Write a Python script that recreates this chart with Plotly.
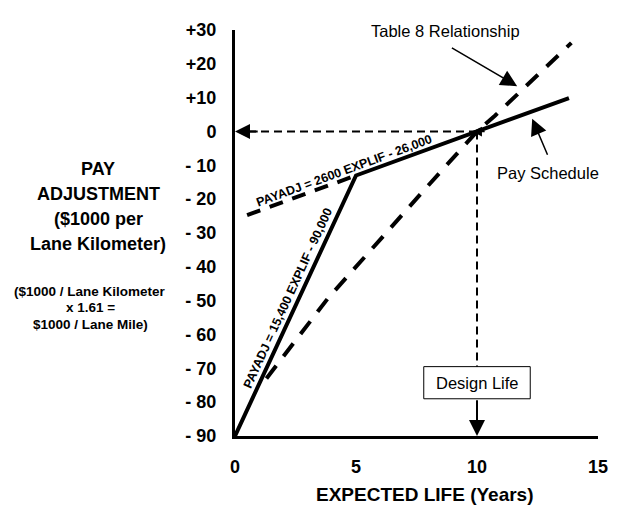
import plotly.graph_objects as go

# ---- data ----
pay_x = [0, 5, 13.8]
pay_y = [-90, -13, 9.9]
ext_x = [0.5, 5]
ext_y = [-24.7, -13]
t8_x = [1.3, 3.83, 7.98, 10, 10.74, 13.9]
t8_y = [-73, -49.4, -16, 0, 4.65, 26.2]
design_life = 10
x_ticks = [0, 5, 10, 15]
y_ticks = [30, 20, 10, 0, -10, -20, -30, -40, -50, -60, -70, -80, -90]
y_ticktext = ["+30", "+20", "+10", "0", "- 10", "- 20", "- 30", "- 40", "- 50",
              "- 60", "- 70", "- 80", "- 90"]

FONT = "Arial, Liberation Sans, sans-serif"
OFF = 8  # page body margin
L, R, T, B = 227, 34, 18, 88
W, H = 624, 516
PW, PH = W - L - R, H - T - B


def px(xp):
    return (xp - OFF - L) / PW


def py(yp):
    return (H - B - (yp - OFF)) / PH


fig = go.Figure()
fig.add_trace(go.Scatter(x=ext_x, y=ext_y, mode="lines",
                         line=dict(color="black", width=4, dash="14px,10px"),
                         hoverinfo="skip"))
fig.add_trace(go.Scatter(x=t8_x, y=t8_y, mode="lines",
                         line=dict(color="black", width=4, dash="16px,12px"),
                         hoverinfo="skip"))
fig.add_trace(go.Scatter(x=pay_x, y=pay_y, mode="lines",
                         line=dict(color="black", width=4),
                         hoverinfo="skip"))

shapes = [
    dict(type="line", x0=design_life, y0=0, x1=0.5, y1=0, xref="x", yref="y",
         line=dict(color="black", width=2, dash="8px,5px")),
    dict(type="line", x0=design_life, y0=0, x1=design_life, y1=-69.5, xref="x", yref="y",
         line=dict(color="black", width=2, dash="8px,5px")),
    dict(type="rect", x0=7.8, x1=12.2, y0=-69.5, y1=-79.0, xref="x", yref="y",
         line=dict(color="black", width=1), fillcolor="white"),
]

ann = []
# left arrow to y-axis
ann.append(dict(x=0, y=0, ax=1.0, ay=0, xref="x", yref="y", axref="x", ayref="y",
                showarrow=True, arrowhead=2, arrowsize=1.5, arrowwidth=2,
                arrowcolor="black", text=""))
# small arrowhead at intersection
ann.append(dict(x=9.8, y=0, ax=14, ay=0, xref="x", yref="y",
                showarrow=True, arrowhead=2, arrowsize=1.3, arrowwidth=1.5,
                arrowcolor="black", text=""))
# design life arrow
ann.append(dict(x=design_life, y=-90, ax=design_life, ay=-79.0, xref="x", yref="y",
                axref="x", ayref="y", showarrow=True, arrowhead=2, arrowsize=1.6,
                arrowwidth=2, arrowcolor="black", text=""))
ann.append(dict(x=design_life, y=-74.3, xref="x", yref="y", text="Design Life",
                showarrow=False, font=dict(family=FONT, size=16.5, color="black")))
# Table 8 arrow
ann.append(dict(x=11.66, y=13.4, ax=8.9, ay=25.0, xref="x", yref="y", axref="x",
                ayref="y", showarrow=True, arrowhead=2, arrowsize=2.2,
                arrowwidth=1.5, arrowcolor="black", text=""))
ann.append(dict(x=px(445), y=py(27), xref="paper", yref="paper",
                xanchor="center", yanchor="middle",
                text="Table 8 Relationship", showarrow=False,
                font=dict(family=FONT, size=16.5, color="black")))
# Pay schedule arrow
ann.append(dict(x=12.28, y=3.8, ax=12.94, ay=-7.3, xref="x", yref="y", axref="x",
                ayref="y", showarrow=True, arrowhead=2, arrowsize=2.2,
                arrowwidth=1.5, arrowcolor="black", text=""))
ann.append(dict(x=px(548), y=py(170), xref="paper", yref="paper",
                xanchor="center", yanchor="middle",
                text="Pay Schedule", showarrow=False,
                font=dict(family=FONT, size=16.5, color="black")))
# line labels
ann.append(dict(x=4.49, y=-11.6, xref="x", yref="y",
                text="<b>PAYADJ = 2600 EXPLIF - 26,000</b>", textangle=-20.2,
                showarrow=False, font=dict(family=FONT, size=12.5, color="black")))
ann.append(dict(x=2.18, y=-49.1, xref="x", yref="y",
                text="<b>PAYADJ = 15,400 EXPLIF - 90,000</b>", textangle=-65.4,
                showarrow=False, font=dict(family=FONT, size=12.5, color="black")))
# axis titles
ann.append(dict(x=px(425), y=py(495), xref="paper", yref="paper",
                xanchor="center", yanchor="middle",
                text="<b>EXPECTED LIFE (Years)</b>", showarrow=False,
                font=dict(family=FONT, size=19, color="black")))
for txt, yy in [("PAY", 166), ("ADJUSTMENT", 192), ("($1000 per", 217),
                ("Lane Kilometer)", 242)]:
    ann.append(dict(x=px(98), y=py(yy), xref="paper", yref="paper",
                    xanchor="center", yanchor="middle",
                    text="<b>" + txt + "</b>", showarrow=False,
                    font=dict(family=FONT, size=18, color="black")))
for txt, yy in [("($1000 / Lane Kilometer", 290), ("x 1.61 =", 306),
                ("$1000 / Lane Mile)", 323)]:
    ann.append(dict(x=px(90), y=py(yy), xref="paper", yref="paper",
                    xanchor="center", yanchor="middle",
                    text="<b>" + txt + "</b>", showarrow=False,
                    font=dict(family=FONT, size=13.5, color="black")))

fig.update_layout(
    width=W, height=H, margin=dict(l=L, r=R, t=T, b=B),
    paper_bgcolor="white", plot_bgcolor="white", showlegend=False,
    shapes=shapes, annotations=ann,
    xaxis=dict(range=[0, 15], showgrid=False, zeroline=False, showline=True,
               linecolor="black", linewidth=3, tickvals=x_ticks, ticks="",
               ticklabelstandoff=12,
               tickfont=dict(family=FONT, size=18, color="black", weight="bold")),
    yaxis=dict(range=[-90, 30], showgrid=False, zeroline=False, showline=True,
               linecolor="black", linewidth=3, tickvals=y_ticks,
               ticktext=y_ticktext, ticks="", ticklabelstandoff=12,
               tickfont=dict(family=FONT, size=18, color="black", weight="bold")),
)

fig.write_html("out.html")
